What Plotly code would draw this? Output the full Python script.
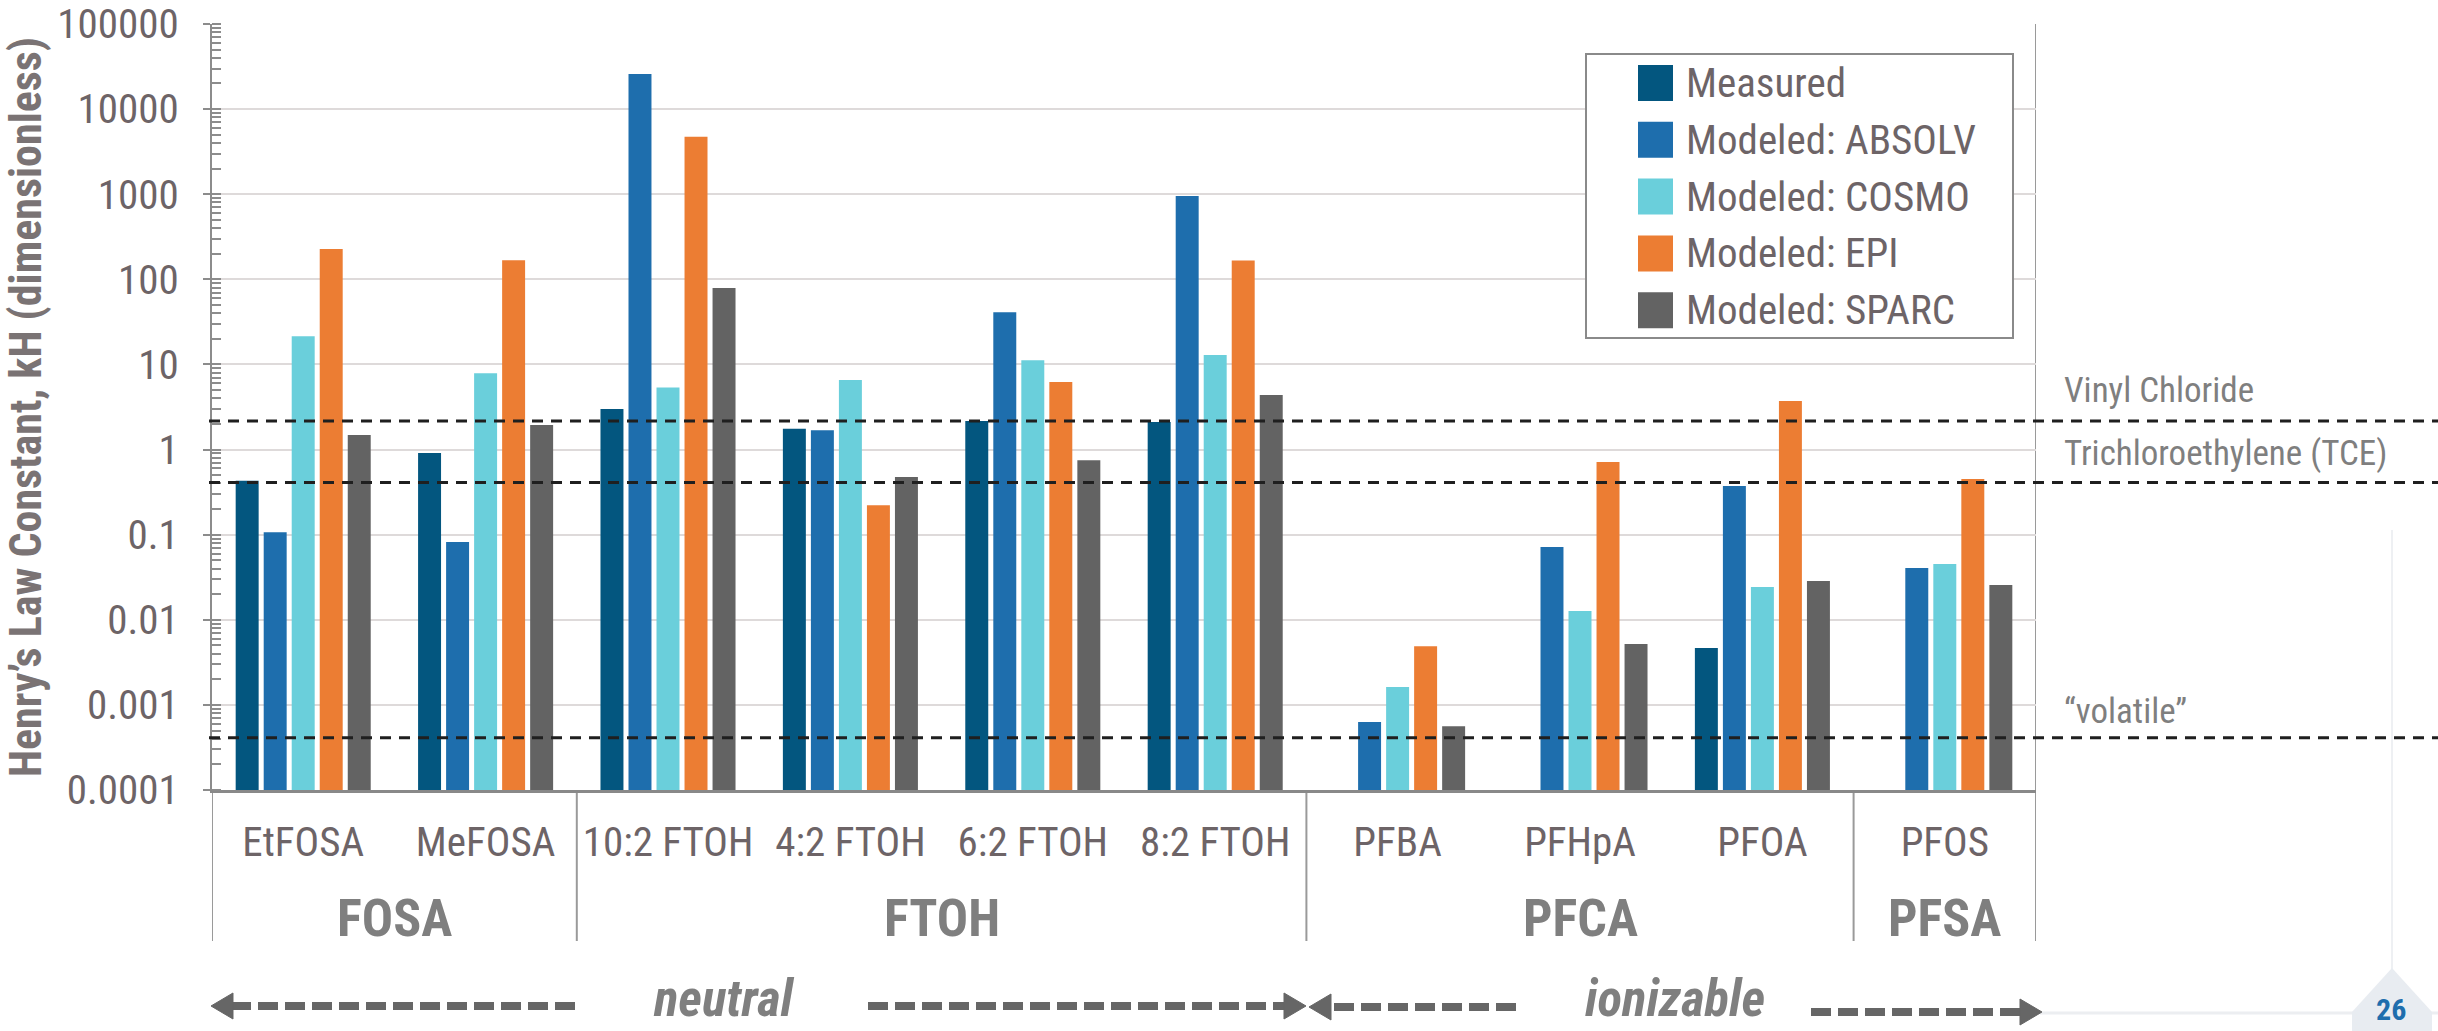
import numpy as np
import plotly.graph_objects as go

# ---------------- data ----------------
compounds = ["EtFOSA", "MeFOSA", "10:2 FTOH", "4:2 FTOH", "6:2 FTOH", "8:2 FTOH",
             "PFBA", "PFHpA", "PFOA", "PFOS"]
groups = ["FOSA", "FTOH", "PFCA", "PFSA"]
group_sizes = [2, 4, 3, 1]
series_names = ["Measured", "Modeled: ABSOLV", "Modeled: COSMO", "Modeled: EPI", "Modeled: SPARC"]
series_colors = ["#03567f", "#1e6ead", "#6acfdb", "#ec7d33", "#636363"]

measured = [0.43, 0.91, 2.99, 1.76, 2.16, 2.11, None, None, 0.00465, None]
absolv = [0.107, 0.082, 25800, 1.69, 41, 955, 0.00063, 0.0714, 0.372, 0.0405]
cosmo = [21.5, 7.9, 5.35, 6.55, 11.2, 12.9, 0.00162, 0.0127, 0.0242, 0.0452]
epi = [227, 168, 4730, 0.222, 6.2, 167, 0.0049, 0.713, 3.72, 0.45]
sparc = [1.48, 1.94, 79, 0.475, 0.75, 4.38, 0.00056, 0.00518, 0.0285, 0.0256]

ref_labels = ["Vinyl Chloride", "Trichloroethylene (TCE)", "\u201cvolatile\u201d"]
ref_values = [2.16, 0.41, 0.00041]
ref_label_shift = [31, 29, 26]

ytick_vals = [1e-4, 1e-3, 1e-2, 1e-1, 1, 10, 100, 1000, 10000, 100000]
ytick_text = ["0.0001", "0.001", "0.01", "0.1", "1", "10", "100", "1000", "10000", "100000"]

class_labels = ["neutral", "ionizable"]
page_number = "26"

# ---------------- figure geometry helpers (pixels -> paper) ----------------
W, H = 2438, 1031
ML, MR, MT, MB = 212, 402, 24, 241
PW, PH = W - ML - MR, H - MT - MB


def px(X):
    return (X - ML) / PW


def py(Y):
    return (H - MB - Y) / PH


FONT = "Liberation Sans Narrow, Arial Narrow, Roboto Condensed, Liberation Sans, Arial, sans-serif"
TXT = "#6d6467"
GREY = "#7f7f7f"

fig = go.Figure()
all_series = [measured, absolv, cosmo, epi, sparc]
for name, vals, col in zip(series_names, all_series, series_colors):
    fig.add_trace(go.Bar(x=compounds, y=vals, name=name, marker_color=col,
                         marker_line_width=0, showlegend=False))

shapes = []
annotations = []

# reference dashed lines
for lab, val, sh in zip(ref_labels, ref_values, ref_label_shift):
    shapes.append(dict(type="line", xref="paper", yref="y", x0=px(209), x1=px(W), y0=val, y1=val,
                       line=dict(color="#1f1f1f", width=3, dash="11px,8px"), layer="above"))
    annotations.append(dict(text=lab, xref="paper", yref="y", x=px(2062), y=np.log10(val),
                            yshift=sh, xanchor="left", yanchor="middle", showarrow=False,
                            font=dict(family=FONT, size=35, color=GREY)))

# category group separators and group labels
bounds = np.concatenate([[0], np.cumsum(group_sizes)]) - 0.5
for i, b in enumerate(bounds):
    top = 1 if i == len(bounds) - 1 else 0
    shapes.append(dict(type="line", xref="x", yref="paper", x0=b, x1=b, y0=py(941), y1=top,
                       line=dict(color="#9a9a9a", width=2), layer="below"))
for g, a, b in zip(groups, bounds[:-1], bounds[1:]):
    annotations.append(dict(text="<b>%s</b>" % g, xref="x", yref="paper", x=(a + b) / 2, y=py(918),
                            xanchor="center", yanchor="middle", showarrow=False,
                            font=dict(family=FONT, size=52, color=GREY)))

# legend (custom, larger swatches)
shapes.append(dict(type="rect", xref="paper", yref="paper", x0=px(1586), x1=px(2013),
                   y0=py(338), y1=py(54), line=dict(color="#8a8a8a", width=2),
                   fillcolor="white", layer="above"))
row0, row_step = 83, 56.8
for i, (name, col) in enumerate(zip(series_names, series_colors)):
    yc = row0 + i * row_step
    shapes.append(dict(type="rect", xref="paper", yref="paper", x0=px(1638), x1=px(1673),
                       y0=py(yc + 18), y1=py(yc - 18), line=dict(width=0), fillcolor=col,
                       layer="above"))
    annotations.append(dict(text=name, xref="paper", yref="paper", x=px(1684), y=py(yc),
                            xanchor="left", yanchor="middle", showarrow=False,
                            font=dict(family=FONT, size=41, color=TXT)))

# neutral / ionizable dashed arrows
AR = "#666666"


def arrow(x_tail, x_tip, y):
    d = 1 if x_tip > x_tail else -1
    hl, hh = 22, 13
    base = x_tip - d * hl
    shapes.append(dict(type="line", xref="paper", yref="paper", x0=px(x_tail), x1=px(base),
                       y0=py(y), y1=py(y), line=dict(color=AR, width=8, dash="20px,7px")))
    path = "M %f,%f L %f,%f L %f,%f Z" % (px(x_tip), py(y), px(base), py(y - hh), px(base), py(y + hh))
    shapes.append(dict(type="path", xref="paper", yref="paper", path=path,
                       fillcolor=AR, line=dict(color=AR, width=1)))


arrow(575, 211, 1006)
arrow(868, 1306, 1006)
arrow(1516, 1309, 1007)
arrow(1811, 2042, 1012)
annotations.append(dict(text="<b><i>%s</i></b>" % class_labels[0], xref="paper", yref="paper",
                        x=px(723), y=py(999), xanchor="center", yanchor="middle", showarrow=False,
                        font=dict(family=FONT, size=51, color=GREY)))
annotations.append(dict(text="<b><i>%s</i></b>" % class_labels[1], xref="paper", yref="paper",
                        x=px(1675), y=py(999), xanchor="center", yanchor="middle", showarrow=False,
                        font=dict(family=FONT, size=51, color=GREY)))

# slide decorations (page number)
shapes.append(dict(type="line", xref="paper", yref="paper", x0=px(2040), x1=px(W), y0=py(1013),
                   y1=py(1013), line=dict(color="#eceef1", width=3), layer="below"))
shapes.append(dict(type="line", xref="paper", yref="paper", x0=px(2392), x1=px(2392), y0=py(990),
                   y1=py(530), line=dict(color="#eef0f3", width=2), layer="below"))
hexpath = "M %f,%f L %f,%f L %f,%f L %f,%f L %f,%f Z" % (
    px(2392), py(968), px(2432), py(1012), px(2432), py(1031), px(2352), py(1031), px(2352), py(1012))
shapes.append(dict(type="path", xref="paper", yref="paper", path=hexpath,
                   fillcolor="#e8ecf1", line=dict(width=0), layer="below"))
annotations.append(dict(text="<b>%s</b>" % page_number, xref="paper", yref="paper", x=px(2391),
                        y=py(1010), xanchor="center", yanchor="middle", showarrow=False,
                        font=dict(family=FONT, size=30, color="#1e6ead")))

fig.update_layout(
    width=W, height=H, autosize=False,
    margin=dict(l=ML, r=MR, t=MT, b=MB, pad=0, autoexpand=False),
    paper_bgcolor="white", plot_bgcolor="white",
    barmode="group", bargap=0.232, bargroupgap=0.18,
    font=dict(family=FONT, color=TXT),
    shapes=shapes, annotations=annotations,
    showlegend=False,
)
fig.update_xaxes(type="category", range=[-0.5, len(compounds) - 0.5], showgrid=False,
                 automargin=False,
                 showline=True, linecolor="#898989", linewidth=3, ticks="",
                 tickfont=dict(family=FONT, size=41, color=TXT), ticklabelstandoff=14)
fig.update_yaxes(type="log", range=[-4, 5], tickvals=ytick_vals, ticktext=ytick_text,
                 automargin=False,
                 showgrid=True, gridcolor="#dedada", gridwidth=2,
                 showline=True, linecolor="#8c8c8c", linewidth=2,
                 ticks="outside", ticklen=7, tickwidth=2, tickcolor="#8c8c8c",
                 minor=dict(ticks="inside", ticklen=9, tickwidth=1.5, tickcolor="#8c8c8c",
                            dtick="D1", showgrid=False),
                 tickfont=dict(family=FONT, size=41, color=TXT), ticklabelstandoff=16,
                 title=dict(text="<b>Henry\u2019s Law Constant, kH (dimensionless)</b>",
                            font=dict(family=FONT, size=44, color="#7a7374"), standoff=14))

fig.write_html("out.html", config={"displayModeBar": False},
               post_script="document.body.style.margin='0';document.body.style.overflow='hidden';")
